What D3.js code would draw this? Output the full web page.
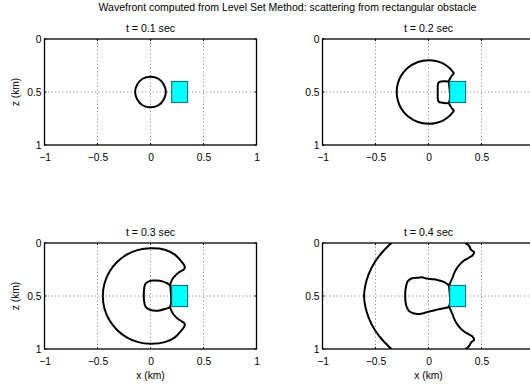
<!DOCTYPE html>
<html>
<head>
<meta charset="utf-8">
<script src="https://cdn.jsdelivr.net/npm/d3@7"></script>
<style>
  html, body { margin: 0; padding: 0; background: #fff; }
  svg { display: block; }
  text { font-family: "Liberation Sans", Arial, Helvetica, sans-serif; fill: #000; }
</style>
</head>
<body>
<svg id="chart" width="530" height="385"></svg>
<script>
// ---------------- data ----------------
const mainTitle = "Wavefront computed from Level Set Method: scattering from rectangular obstacle";
const times = [0.1, 0.2, 0.3, 0.4];
const xTicks = [-1, -0.5, 0, 0.5, 1];
const zTicks = [0, 0.5, 1];
const xTickLabels = ["\u22121", "\u22120.5", "0", "0.5", "1"];
const zTickLabels = ["0", "0.5", "1"];
const xGrid = [-0.5, 0, 0.5];
const zGrid = [0.5];
const obstacleX = [0.2, 0.35];
const obstacleZ = [0.4, 0.6];

// wavefront contours [x, z]
const wave01 = [[0,0.355],[0.075,0.375],[0.125,0.43],[0.145,0.5],[0.125,0.57],[0.075,0.625],[0,0.645],
  [-0.075,0.625],[-0.125,0.57],[-0.145,0.5],[-0.125,0.43],[-0.075,0.375]];

const wave02Outer = [[0.19,0.40],[0.205,0.37],[0.222,0.345],[0.238,0.322],[0.222,0.3],[0.2,0.276],[0.14,0.233],
  [0.07,0.208],[0,0.2],[-0.1,0.217],[-0.2,0.276],[-0.26,0.35],[-0.29,0.423],[-0.3,0.5],[-0.29,0.577],
  [-0.26,0.65],[-0.2,0.724],[-0.1,0.783],[0,0.8],[0.07,0.792],[0.14,0.767],[0.2,0.724],[0.222,0.7],
  [0.238,0.678],[0.222,0.655],[0.205,0.63],[0.19,0.6]];
const wave02Inner = [[0.19,0.4],[0.12,0.4],[0.097,0.408],[0.088,0.435],[0.087,0.5],[0.088,0.565],[0.097,0.592],
  [0.12,0.6],[0.19,0.6],[0.19,0.4]];

const wave03Outer = [[0.185,0.4],[0.19,0.377],[0.214,0.33],[0.26,0.283],[0.318,0.245],[0.322,0.22],[0.29,0.173],
  [0.23,0.11],[0.135,0.063],[0,0.05],[-0.116,0.065],[-0.225,0.11],[-0.318,0.182],[-0.39,0.275],[-0.435,0.384],
  [-0.45,0.5],[-0.435,0.616],[-0.39,0.725],[-0.318,0.818],[-0.225,0.89],[-0.116,0.935],[0,0.95],[0.135,0.935],
  [0.23,0.89],[0.29,0.827],[0.322,0.78],[0.318,0.755],[0.26,0.717],[0.214,0.67],[0.19,0.623],[0.185,0.6]];
const wave03Inner = [[0.185,0.4],[0.15,0.377],[0.088,0.357],[0.025,0.354],[-0.028,0.368],[-0.052,0.393],
  [-0.062,0.456],[-0.062,0.535],[-0.047,0.6],[-0.008,0.628],[0.072,0.638],[0.135,0.623],[0.185,0.6],[0.185,0.4]];

const wave04Left = [[-0.35,0],[-0.43,0.08],[-0.5,0.17],[-0.562,0.29],[-0.596,0.4],[-0.608,0.5],[-0.596,0.6],
  [-0.562,0.71],[-0.5,0.83],[-0.43,0.92],[-0.35,1]];
const wave04RightTop = [[0.346,0],[0.37,0.015],[0.386,0.032],[0.396,0.055],[0.412,0.072],[0.43,0.085],[0.425,0.103],
  [0.412,0.12],[0.39,0.133],[0.36,0.15],[0.33,0.17],[0.3,0.197],[0.27,0.235],[0.245,0.28],[0.225,0.33],
  [0.208,0.37],[0.192,0.4]];
const wave04RightBottom = [[0.192,0.6],[0.208,0.63],[0.225,0.67],[0.245,0.72],[0.27,0.765],[0.3,0.803],
  [0.33,0.83],[0.36,0.85],[0.39,0.867],[0.412,0.88],[0.425,0.897],[0.43,0.915],[0.412,0.93],[0.396,0.948],
  [0.386,0.968],[0.37,0.985],[0.346,1]];
const wave04Inner = [[0.192,0.4],[0.16,0.375],[0.126,0.36],[0.085,0.35],[0.047,0.343],[0,0.337],[-0.03,0.333],
  [-0.06,0.324],[-0.094,0.327],[-0.13,0.33],[-0.165,0.337],[-0.195,0.36],[-0.21,0.4],[-0.218,0.45],[-0.22,0.5],
  [-0.216,0.56],[-0.205,0.605],[-0.185,0.64],[-0.15,0.66],[-0.12,0.668],[-0.08,0.67],[-0.04,0.66],[0,0.648],
  [0.05,0.636],[0.094,0.626],[0.14,0.615],[0.192,0.6],[0.192,0.4]];

const wavefronts = [
  [{pts: wave01, closed: true}],
  [{pts: wave02Outer}, {pts: wave02Inner}],
  [{pts: wave03Outer}, {pts: wave03Inner}],
  [{pts: wave04Left}, {pts: wave04RightTop}, {pts: wave04RightBottom}, {pts: wave04Inner}]
];

// ---------------- layout ----------------
const svg = d3.select("#chart");
const SVG_W = 530;
const colX = [44.5, 322.5];
const rowY = [39, 243];
const W = 212, H = 106;
const FONT = "'Liberation Sans', Arial, sans-serif";

svg.append("text").attr("x", 287.5).attr("y", 10.5).attr("text-anchor", "middle")
  .style("font-size", "10.5px").text(mainTitle);

times.forEach((t, i) => {
  const col = i % 2, row = Math.floor(i / 2);
  const g = svg.append("g").attr("transform", `translate(${colX[col]},${rowY[row]})`);
  const x = d3.scaleLinear().domain([-1, 1]).range([0, W]);
  const z = d3.scaleLinear().domain([0, 1]).range([0, H]);

  g.append("rect").attr("width", W).attr("height", H).attr("fill", "#fff");

  // grid
  g.selectAll(".gx").data(xGrid).join("line")
    .attr("x1", d => x(d)).attr("x2", d => x(d)).attr("y1", 0).attr("y2", H)
    .attr("stroke", "#555").attr("stroke-width", 0.8).attr("stroke-dasharray", "1,2.6");
  g.selectAll(".gz").data(zGrid).join("line")
    .attr("x1", 0).attr("x2", W).attr("y1", d => z(d)).attr("y2", d => z(d))
    .attr("stroke", "#555").attr("stroke-width", 0.8).attr("stroke-dasharray", "1,2.6");

  // wavefronts
  const clipId = "clip" + i;
  g.append("clipPath").attr("id", clipId).append("rect").attr("width", W).attr("height", H);
  const cg = g.append("g").attr("clip-path", `url(#${clipId})`);
  wavefronts[i].forEach(w => {
    const line = d3.line().x(d => x(d[0])).y(d => z(d[1]))
      .curve(w.closed ? d3.curveCatmullRomClosed.alpha(0.5) : d3.curveCatmullRom.alpha(0.5));
    cg.append("path").attr("d", line(w.pts)).attr("fill", "none")
      .attr("stroke", "#000").attr("stroke-width", 2).attr("stroke-linejoin", "round");
  });

  // obstacle
  g.append("rect")
    .attr("x", x(obstacleX[0])).attr("y", z(obstacleZ[0]))
    .attr("width", x(obstacleX[1]) - x(obstacleX[0])).attr("height", z(obstacleZ[1]) - z(obstacleZ[0]))
    .attr("fill", "#00ffff").attr("stroke", "#006a6a").attr("stroke-width", 1);

  // axes: labels only where they fall inside the page (the right column is cut by the page edge)
  const visX = xTicks.filter(v => colX[col] + x(v) + 4 <= SVG_W);
  const xAxis = d3.axisBottom(x).tickValues(visX).tickSize(0).tickPadding(8.5)
    .tickFormat(d => xTickLabels[xTicks.indexOf(d)]);
  const ax = g.append("g").attr("transform", `translate(0,${H})`).call(xAxis);
  ax.select(".domain").remove();
  ax.selectAll("text").style("font-size", "10.3px").style("font-family", FONT);

  const zAxis = d3.axisLeft(z).tickValues(zTicks).tickSize(0).tickPadding(3)
    .tickFormat((d, k) => zTickLabels[k]);
  const az = g.append("g").call(zAxis);
  az.select(".domain").remove();
  az.selectAll("text").style("font-size", "10.3px").style("font-family", FONT);

  const tl = 2;
  xTicks.forEach(v => {
    g.append("line").attr("x1", x(v)).attr("x2", x(v)).attr("y1", H).attr("y2", H - tl).attr("stroke", "#000");
    g.append("line").attr("x1", x(v)).attr("x2", x(v)).attr("y1", 0).attr("y2", tl).attr("stroke", "#000");
  });
  zTicks.forEach(v => {
    g.append("line").attr("x1", 0).attr("x2", tl).attr("y1", z(v)).attr("y2", z(v)).attr("stroke", "#000");
    g.append("line").attr("x1", W).attr("x2", W - tl).attr("y1", z(v)).attr("y2", z(v)).attr("stroke", "#000");
  });

  g.append("rect").attr("width", W).attr("height", H).attr("fill", "none")
    .attr("stroke", "#000").attr("stroke-width", 1.3);

  // titles and labels
  g.append("text").attr("x", W / 2).attr("y", -7).attr("text-anchor", "middle")
    .style("font-size", "10.6px").text(`t = ${t} sec`);
  if (col === 0) {
    g.append("text").attr("transform", `translate(-26,${H / 2}) rotate(-90)`).attr("text-anchor", "middle")
      .style("font-size", "10.3px").text("z (km)");
  }
  if (row === 1) {
    g.append("text").attr("x", W / 2).attr("y", H + 30).attr("text-anchor", "middle")
      .style("font-size", "10.3px").text("x (km)");
  }
});
</script>
</body>
</html>
